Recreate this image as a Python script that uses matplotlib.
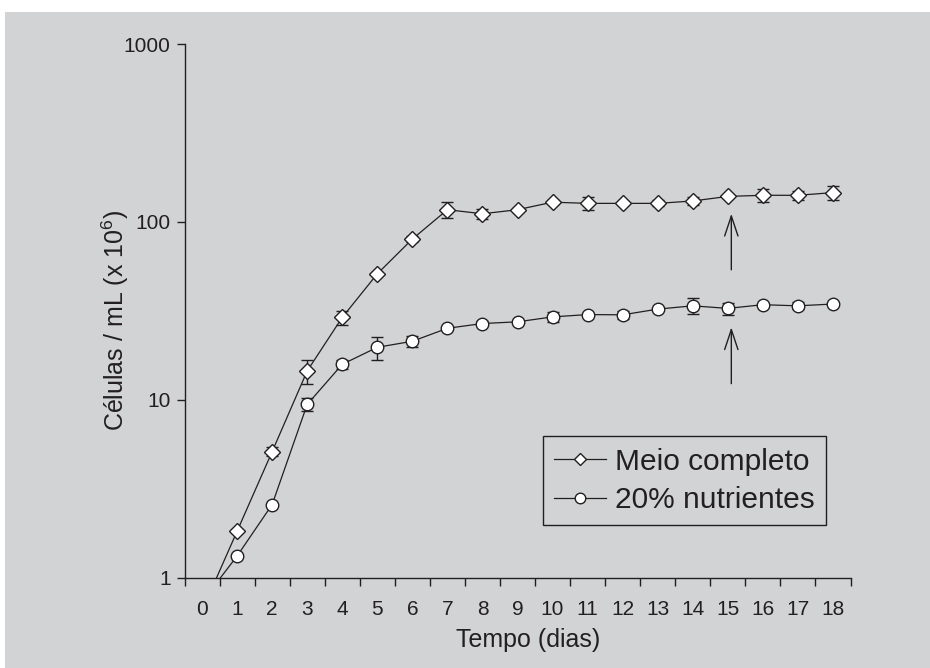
import numpy as np
import matplotlib.pyplot as plt
from matplotlib.patches import Rectangle
from matplotlib.lines import Line2D

plt.rcParams['font.family'] = ['Liberation Sans', 'DejaVu Sans']
plt.rcParams['mathtext.fontset'] = 'custom'
plt.rcParams['mathtext.rm'] = 'Liberation Sans'
plt.rcParams['mathtext.it'] = 'Liberation Sans'

# dias de cultivo
dias = list(range(19))
# Meio completo (celulas/mL x 10^6)
completo = [0.65, 1.82, 5.1, 14.5, 29, 51, 80, 117, 111, 117, 129, 127, 127, 127, 131, 139, 141, 141, 146]
completo_err = [0, 0.05, 0.3, 2.3, 2.7, 1, 3, 12, 7, 3, 3, 11, 2, 5, 7, 3, 11, 9, 14]
# 20% nutrientes
nutri = [0.73, 1.32, 2.57, 9.4, 15.8, 19.7, 21.3, 25.2, 26.8, 27.4, 29.2, 30.1, 30.0, 32.3, 33.7, 32.6, 34.2, 33.7, 34.5]
nutri_err = [0, 0.03, 0.05, 0.8, 1, 2.9, 1.5, 0.5, 1, 0.5, 2, 0.5, 1.5, 0.5, 3.5, 2.5, 0.5, 1.5, 0.5]

bg = '#d1d3d4'
ink = '#231f20'

fig = plt.figure(figsize=(9.3, 6.68), dpi=100)
fig.patches.append(Rectangle((5/930, 0), 1, 1 - 12/668, transform=fig.transFigure,
                             facecolor=bg, edgecolor='none', zorder=-10))
ax = fig.add_axes([184.5/930, 90.5/668, 666/930, 533.5/668])
ax.set_facecolor('none')

ax.errorbar(dias, completo, yerr=completo_err, color=ink, lw=0.9, marker='D', ms=8.2,
            mfc='white', mec=ink, mew=1.0, capsize=4.4, elinewidth=1.0, capthick=1.0)
ax.errorbar(dias, nutri, yerr=nutri_err, color=ink, lw=0.9, marker='o', ms=9,
            mfc='white', mec=ink, mew=1.0, capsize=4.4, elinewidth=1.0, capthick=1.0)

ax.set_yscale('log')
ax.set_ylim(1, 1000)
ax.set_xlim(-0.5, 18.5)
ax.set_yticks([1, 10, 100, 1000])
ax.set_yticklabels(['1', '10', '100', '1000'])
ax.yaxis.set_minor_locator(plt.NullLocator())
ax.set_xticks(np.arange(-0.5, 19, 1))
ax.set_xticklabels([])
ax.set_xticks(dias, minor=True)
ax.set_xticklabels([str(d) for d in dias], minor=True)
ax.tick_params(axis='x', which='major', direction='out', length=6, width=1, color=ink)
ax.tick_params(axis='x', which='minor', length=0, pad=16, labelsize=15, labelcolor=ink)
ax.tick_params(axis='y', direction='out', length=6, width=1, color=ink, pad=4,
               labelsize=15, labelcolor=ink)
for s in ['top', 'right']:
    ax.spines[s].set_visible(False)
for s in ['left', 'bottom']:
    ax.spines[s].set_color(ink)
    ax.spines[s].set_linewidth(1.0)

ax.set_xlabel('Tempo (dias)', fontsize=18, color=ink)
ax.set_ylabel('Células / mL (x 10$^6$)', fontsize=18, color=ink)
ax.xaxis.set_label_coords(0.516, -0.094)
ax.yaxis.set_label_coords(-0.08, 0.481)

# setas no dia 15
for tip, tail in [(111, 53.7), (25.5, 12.3)]:
    ax.annotate('', xy=(15.1, tip), xytext=(15.1, tail),
                arrowprops=dict(arrowstyle='->,head_length=0.9,head_width=0.3',
                                color=ink, lw=1.0, mutation_scale=16,
                                shrinkA=0, shrinkB=0))

handles = [
    Line2D([], [], color=ink, lw=0.9, marker='D', ms=6.6, mfc='white', mec=ink, mew=1.0),
    Line2D([], [], color=ink, lw=0.9, marker='o', ms=7.6, mfc='white', mec=ink, mew=1.0),
]
leg = ax.legend(handles, ['Meio completo', '20% nutrientes'], loc='lower right',
                bbox_to_anchor=(826/930, (668-525)/668),
                bbox_transform=fig.transFigure, fontsize=21.5, frameon=True,
                fancybox=False, framealpha=1, facecolor=bg, edgecolor=ink,
                handlelength=1.75, handletextpad=0.3,
                borderpad=0.37, labelspacing=0.35, borderaxespad=0)
leg.get_frame().set_linewidth(1.0)
for t in leg.get_texts():
    t.set_color(ink)

fig.savefig('out.png', dpi=100, facecolor='white')
